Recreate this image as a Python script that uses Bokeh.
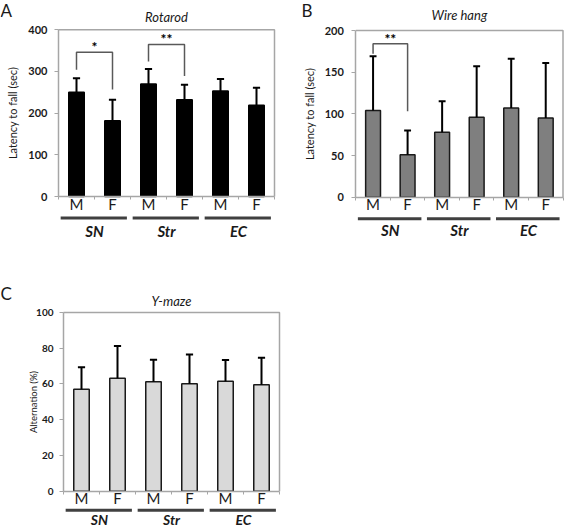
from bokeh.plotting import figure
from bokeh.models import Range1d, FixedTicker, ColumnDataSource
from bokeh.layouts import row, column
from bokeh.embed import file_html
from bokeh.resources import INLINE
from bokeh.core.properties import value

# ---------------- data ----------------
regions = ["SN", "Str", "EC"]
sexes = ["M", "F", "M", "F", "M", "F"]

rotarod_mean = [250, 182, 270, 232, 253, 219]
rotarod_err = [34, 50, 36, 36, 29, 42]
wirehang_mean = [104, 51, 78, 96, 107, 95]
wirehang_err = [65, 29, 37, 61, 59, 66]
ymaze_mean = [57.1, 63.2, 61.2, 60.1, 61.5, 59.5]
ymaze_err = [12.2, 18.1, 12.4, 16.4, 11.9, 15.2]

rotarod_yticks = [0, 100, 200, 300, 400]
wirehang_yticks = [0, 50, 100, 150, 200]
ymaze_yticks = [0, 20, 40, 60, 80, 100]

# significance brackets: pairs of bar indices, bracket top, leg ends, marks
rotarod_sig_pairs = [(0, 1), (2, 3)]
rotarod_sig_top = [346, 365]
rotarod_sig_legs = [(304, 257), (324, 289)]
rotarod_sig_marks = ["*", "**"]
wirehang_sig_pairs = [(0, 1)]
wirehang_sig_top = [184]
wirehang_sig_legs = [(172, 103)]
wirehang_sig_marks = ["**"]

FONT = "Lato"
DARK = "#1a1a1a"
GRAY = "#a6a6a6"
TEXT_LIFT = 5.5   # px: text glyphs render slightly below their alphabetic anchor


def make_panel(means, errs, yticks, fill, edge, title, letter, ylabel,
               W, H, L, R, T, B, letter_x, letter_base, title_base,
               label_gap, tick_font, label_font, tick_standoff,
               line_off, group_off, group_font="15px", mf_standoff=-5,
               sig_pairs=(), sig_top=(), sig_legs=(), sig_marks=()):
    """W,H: figure size; L,R,T,B: plot-area edges in figure pixels."""
    ymax = yticks[-1]
    n = len(means)
    cw = (R - L) / n            # pixels per category
    s = (B - T) / ymax          # pixels per y unit

    def xd(px):                 # figure pixel -> x data
        return -0.5 + (px - L) / cw

    def yd(py):                 # figure pixel (from top) -> y data
        return (B - py) / s

    p = figure(width=W, height=H, min_border=0,
               x_range=Range1d(xd(0), xd(W)), y_range=Range1d(yd(H), yd(0)),
               output_backend="svg", toolbar_location=None, tools="")
    p.background_fill_color = "white"
    p.border_fill_color = "white"
    p.outline_line_color = None
    p.xgrid.visible = False
    p.ygrid.visible = False

    # plot-area box (top and right edges)
    p.line(x=[-0.5, n - 0.5, n - 0.5], y=[ymax, ymax, 0],
           line_color=GRAY, line_width=1.5)

    xs = list(range(n))
    src = ColumnDataSource(dict(
        x=xs, top=means,
        etop=[m + e for m, e in zip(means, errs)],
        cl=[x - 0.1 for x in xs], cr=[x + 0.1 for x in xs],
    ))
    p.vbar(x="x", top="top", bottom=0, width=0.43, source=src,
           fill_color=fill, line_color=edge, line_width=1.5)
    p.segment(x0="x", y0="top", x1="x", y1="etop", source=src,
              line_color="black", line_width=2)
    p.segment(x0="cl", y0="etop", x1="cr", y1="etop", source=src,
              line_color="black", line_width=2)

    for (a, b), top, (la, lb), mark in zip(sig_pairs, sig_top, sig_legs, sig_marks):
        p.multi_line(xs=[[a, a, b, b]], ys=[[la, top, top, lb]],
                     line_color="#595959", line_width=1.5)
        p.text(x=[(a + b) / 2], y=[top + TEXT_LIFT / s], text=[mark], text_align="center",
               text_baseline="alphabetic", text_font=value(FONT),
               text_font_size="14px", text_font_style="bold", text_color="black")

    # x axis (inside the canvas, at y = 0)
    xa = p.xaxis[0]
    xa.fixed_location = 0
    xa.bounds = (-0.5, n - 0.5)
    xa.ticker = FixedTicker(ticks=xs, minor_ticks=[x - 0.5 for x in xs] + [n - 0.5])
    xa.major_label_overrides = {i: lab for i, lab in enumerate(sexes)}
    xa.axis_line_color = GRAY
    xa.axis_line_width = 1.5
    xa.major_tick_line_color = None
    xa.major_tick_out = 0
    xa.major_tick_in = 0
    xa.minor_tick_line_color = GRAY
    xa.minor_tick_out = 3
    xa.minor_tick_in = 0
    xa.major_label_text_font = FONT
    xa.major_label_text_font_size = "15px"
    xa.major_label_text_color = DARK
    xa.major_label_standoff = mf_standoff

    # y axis (inside the canvas, at x = -0.5)
    ya = p.yaxis[0]
    ya.fixed_location = -0.5
    ya.bounds = (0, ymax)
    ya.ticker = FixedTicker(ticks=yticks)
    ya.axis_line_color = GRAY
    ya.axis_line_width = 1.5
    ya.major_tick_line_color = GRAY
    ya.major_tick_out = 4
    ya.major_tick_in = 0
    ya.minor_tick_line_color = None
    ya.major_label_text_font = FONT
    ya.major_label_text_font_size = tick_font
    ya.major_label_text_font_style = "bold"
    ya.major_label_text_color = DARK
    ya.major_label_standoff = tick_standoff
    ya.axis_label = ylabel
    ya.axis_label_text_font = FONT
    ya.axis_label_text_font_size = label_font
    ya.axis_label_text_font_style = "normal"
    ya.axis_label_text_color = DARK
    ya.axis_label_standoff = label_gap

    # group underlines and names
    k = list(range(len(regions)))
    p.segment(x0=[2 * i - 0.5 + 0.06 for i in k], y0=[yd(B + line_off)] * len(k),
              x1=[2 * i + 1.5 - 0.1 for i in k], y1=[yd(B + line_off)] * len(k),
              line_color="#404040", line_width=3)
    p.text(x=[2 * i + 0.5 for i in k], y=[yd(B + group_off - TEXT_LIFT)] * len(k),
           text=regions, text_align="center", text_baseline="alphabetic",
           text_font=value(FONT), text_font_size=group_font,
           text_font_style="bold italic", text_color=DARK)

    # panel letter and title
    p.text(x=[xd(letter_x)], y=[yd(letter_base - TEXT_LIFT)], text=[letter],
           text_align="left", text_baseline="alphabetic", text_font=value(FONT),
           text_font_size="17px", text_color=DARK)
    p.text(x=[(n - 1) / 2], y=[yd(title_base - TEXT_LIFT)], text=[title],
           text_align="center", text_baseline="alphabetic", text_font=value(FONT),
           text_font_size="13px", text_font_style="italic", text_color=DARK)
    return p


pA = make_panel(rotarod_mean, rotarod_err, rotarod_yticks, "black", "black",
                "Rotarod", "A", "Latency to fall (sec)",
                W=282, H=280, L=58, R=274, T=29.3, B=196,
                letter_x=0, letter_base=15, title_base=21.5, label_gap=6,
                tick_font="11px", label_font="11px", tick_standoff=7,
                line_off=21.5, group_off=39.5,
                sig_pairs=rotarod_sig_pairs, sig_top=rotarod_sig_top,
                sig_legs=rotarod_sig_legs, sig_marks=rotarod_sig_marks)
pB = make_panel(wirehang_mean, wirehang_err, wirehang_yticks, "#7f7f7f", DARK,
                "Wire hang", "B", "Latency to fall (sec)",
                W=285, H=280, L=73.3, R=280.5, T=30, B=196.7,
                letter_x=19, letter_base=15, title_base=19.5, label_gap=5,
                tick_font="11px", label_font="11px", tick_standoff=8,
                line_off=21.6, group_off=38.3,
                sig_pairs=wirehang_sig_pairs, sig_top=wirehang_sig_top,
                sig_legs=wirehang_sig_legs, sig_marks=wirehang_sig_marks)
pC = make_panel(ymaze_mean, ymaze_err, ymaze_yticks, "#d9d9d9", DARK,
                "Y-maze", "C", "Alternation (%)",
                W=282, H=249, L=63, R=279, T=32, B=210.7,
                letter_x=0, letter_base=18, title_base=26, label_gap=-6,
                tick_font="10px", label_font="9.5px", tick_standoff=6,
                line_off=19, group_off=33.3, group_font="14px")

layout = column(row(pA, pB), pC)
open("out.html", "w").write(file_html(layout, INLINE))
